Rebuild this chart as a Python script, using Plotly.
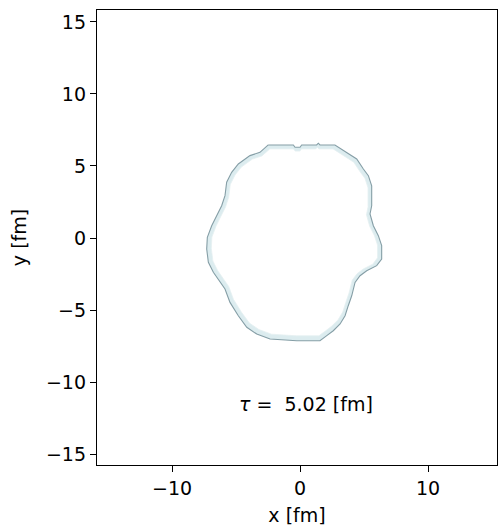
import numpy as np
import plotly.graph_objects as go

# Freeze-out contour in the transverse plane (fm)
contour_x = [-2.48, -0.52, -0.39, 0.00, 0.13, 1.30, 1.43, 1.56, 2.73, 3.65, 4.43, 4.95,
             5.34, 5.60, 5.60, 5.47, 5.73, 6.12, 6.38, 6.38, 5.99, 5.21, 4.69, 4.30,
             4.04, 3.77, 3.52, 3.13, 2.60, 2.09, 1.56, -0.26, -2.34, -3.38, -4.16, -4.82,
             -5.47, -5.86, -6.38, -6.77, -7.16, -7.29, -7.24, -6.90, -6.51, -6.12, -5.86,
             -5.73, -5.34, -4.82, -3.91, -3.13]
contour_y = [6.46, 6.46, 6.30, 6.30, 6.46, 6.46, 6.58, 6.46, 6.46, 5.95, 5.49, 4.79,
             4.33, 3.63, 2.24, 1.67, 0.85, 0.16, -0.53, -1.46, -1.92, -2.27, -2.62, -3.08,
             -4.01, -4.70, -5.40, -5.97, -6.44, -6.78, -7.13, -7.13, -7.01, -6.67, -6.20, -5.40,
             -4.47, -3.54, -2.85, -2.38, -1.69, -0.76, 0.05, 0.85, 1.55, 2.24, 2.94,
             3.87, 4.56, 5.14, 5.72, 5.95]
tau = 5.02

x_ticks = [-10, 0, 10]
y_ticks = [-15, -10, -5, 0, 5, 10, 15]

cx = np.array(contour_x + contour_x[:1])
cy = np.array(contour_y + contour_y[:1])

# inner edge of the band: shrink the outline slightly toward its centre
mx, my = np.mean(contour_x), np.mean(contour_y)
ix = mx + (cx - mx) * 0.95
iy = my + (cy - my) * 0.955

font = "DejaVu Sans"
fig = go.Figure()
fig.add_trace(go.Scatter(x=cx, y=cy, mode="lines", fill="toself",
                         fillcolor="#dcecef", line=dict(color="#859ea6", width=1.1),
                         hoverinfo="skip", showlegend=False))
fig.add_trace(go.Scatter(x=ix, y=iy, mode="lines", fill="toself",
                         fillcolor="white", line=dict(color="#e6f0f1", width=0.8),
                         hoverinfo="skip", showlegend=False))

fig.add_annotation(x=0.5, y=-11.5, text="<i>τ</i> =  %.2f [fm]" % tau,
                   showarrow=False, font=dict(family=font, size=19, color="black"))

axis_common = dict(showline=True, linecolor="black", linewidth=1.3, mirror=True,
                   ticks="outside", ticklen=6, tickwidth=1.3, tickcolor="black",
                   showgrid=False, zeroline=False,
                   tickfont=dict(family=font, size=19, color="black"))

fig.update_xaxes(range=[-15.86, 15.39], tickvals=x_ticks,
                 ticktext=[str(v).replace("-", "\u2212") for v in x_ticks],
                 title=dict(text="x [fm]", font=dict(family=font, size=19, color="black"),
                            standoff=10),
                 **axis_common)
fig.update_yaxes(range=[-15.76, 15.83], tickvals=y_ticks,
                 ticktext=[str(v).replace("-", "\u2212") for v in y_ticks],
                 title=dict(text="y [fm]", font=dict(family=font, size=19, color="black"),
                            standoff=14),
                 **axis_common)

fig.update_layout(width=498, height=529, margin=dict(l=97, r=1, t=10, b=64),
                  paper_bgcolor="white", plot_bgcolor="white")

fig.write_html("out.html")
